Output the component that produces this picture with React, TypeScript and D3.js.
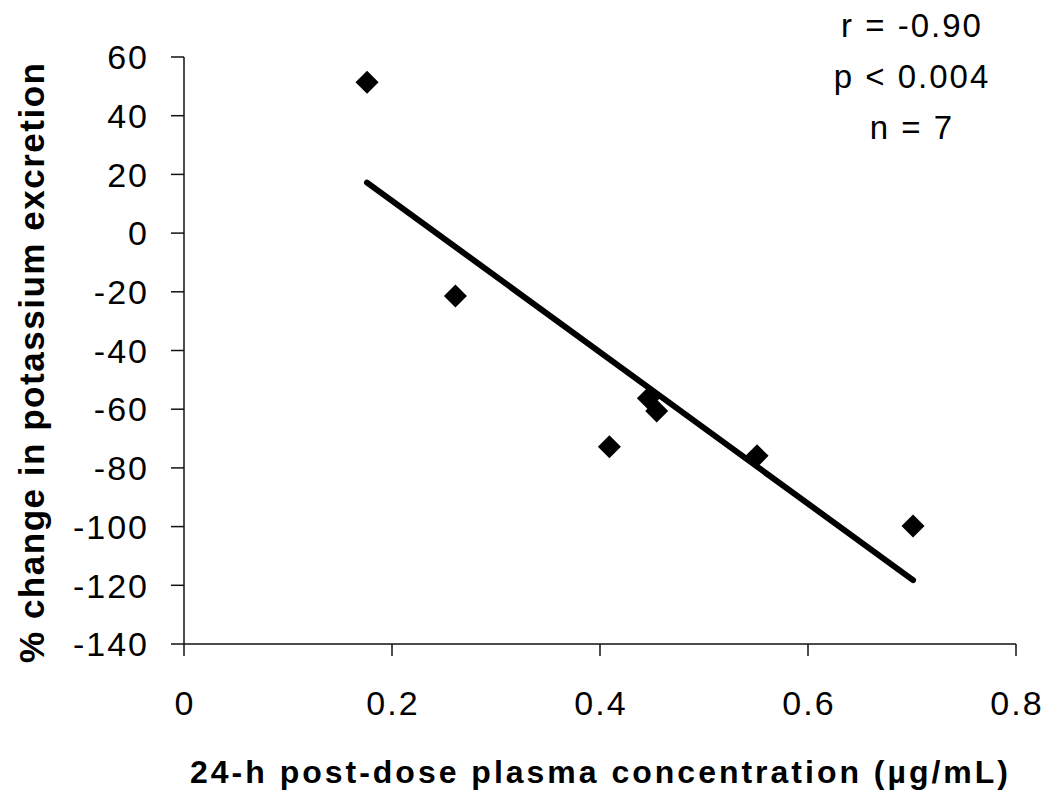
import React from "react";
import * as d3 from "d3";

const concentration = [0.176, 0.261, 0.409, 0.4465, 0.4545, 0.551, 0.701];
const potassiumChange = [51.4, -21.4, -72.8, -56.3, -60.6, -75.9, -99.8];
const xTicks = [0, 0.2, 0.4, 0.6, 0.8];
const yTicks = [60, 40, 20, 0, -20, -40, -60, -80, -100, -120, -140];
const statsLines = ["r = -0.90", "p < 0.004", "n = 7"];
const xTitle = "24-h post-dose plasma concentration (\u00b5g/mL)";
const yTitle = "% change in potassium excretion";

const W = 1051;
const H = 800;
const FONT = "'Liberation Sans', Arial, Helvetica, sans-serif";

export default function App() {
  const x = d3.scaleLinear().domain([0, 0.8]).range([184, 1016]);
  const y = d3.scaleLinear().domain([-140, 60]).range([644, 57]);

  const mx = d3.mean(concentration) as number;
  const my = d3.mean(potassiumChange) as number;
  let sxy = 0;
  let sxx = 0;
  concentration.forEach((c, i) => {
    sxy += (c - mx) * (potassiumChange[i] - my);
    sxx += (c - mx) * (c - mx);
  });
  const slope = sxy / sxx;
  const intercept = my - slope * mx;
  const [x0, x1] = d3.extent(concentration) as [number, number];
  const fitPts: [number, number][] = [
    [x0, intercept + slope * x0],
    [x1, intercept + slope * x1],
  ];
  const line = d3
    .line<[number, number]>()
    .x((d) => x(d[0]))
    .y((d) => y(d[1]));

  const diamond = d3.symbol().type(d3.symbolSquare).size(265)() as string;

  return (
    <svg
      width={W}
      height={H}
      style={{ position: "absolute", left: 0, top: 0, background: "#fff" }}
      fontFamily={FONT}
    >
      <rect x={0} y={0} width={W} height={H} fill="#fff" />
      {/* axes */}
      <line x1={x(0)} x2={x(0)} y1={y(60)} y2={y(-140)} stroke="#111" strokeWidth={1.5} />
      <line x1={x(0)} x2={x(0.8)} y1={y(-140)} y2={y(-140)} stroke="#111" strokeWidth={1.5} />
      {yTicks.map((t) => (
        <g key={"y" + t}>
          <line x1={x(0) - 13} x2={x(0)} y1={y(t)} y2={y(t)} stroke="#111" strokeWidth={1.5} />
          <text
            x={149}
            y={y(t)}
            dy="0.36em"
            textAnchor="end"
            fontSize={34}
            letterSpacing={2}
            fill="#000"
          >
            {t}
          </text>
        </g>
      ))}
      {xTicks.map((t) => (
        <g key={"x" + t}>
          <line x1={x(t)} x2={x(t)} y1={y(-140)} y2={y(-140) + 12} stroke="#111" strokeWidth={1.5} />
          <text x={x(t) + 1} y={715} textAnchor="middle" fontSize={34} letterSpacing={2} fill="#000">
            {t === 0 ? "0" : String(t)}
          </text>
        </g>
      ))}
      {/* titles */}
      <text
        x={599}
        y={783}
        textAnchor="middle"
        fontSize={32}
        fontWeight="bold"
        textLength={818}
        lengthAdjust="spacing"
        fill="#000"
      >
        {xTitle}
      </text>
      <text
        transform={`translate(44,363) rotate(-90)`}
        textAnchor="middle"
        fontSize={35}
        fontWeight="bold"
        textLength={600}
        lengthAdjust="spacing"
        fill="#000"
      >
        {yTitle}
      </text>
      {/* stats */}
      {statsLines.map((s, i) => (
        <text
          key={s}
          x={912}
          y={37 + i * 51}
          textAnchor="middle"
          fontSize={33}
          letterSpacing={2}
          fill="#000"
        >
          {s}
        </text>
      ))}
      {/* regression line */}
      <path d={line(fitPts) as string} stroke="#000" strokeWidth={6} strokeLinecap="round" fill="none" />
      {/* points */}
      {concentration.map((c, i) => (
        <path
          key={i}
          d={diamond}
          transform={`translate(${x(c)},${y(potassiumChange[i])}) rotate(45)`}
          fill="#000"
        />
      ))}
    </svg>
  );
}
